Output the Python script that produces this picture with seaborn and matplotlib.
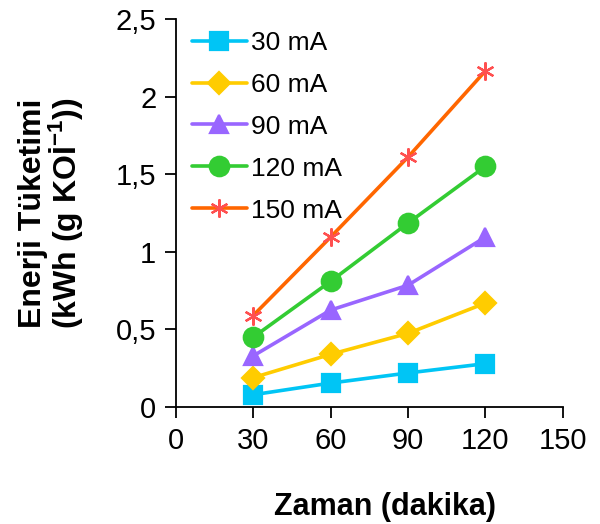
import pandas as pd
import matplotlib.pyplot as plt
import seaborn as sns
from matplotlib.ticker import FuncFormatter

# veriler
zaman = [30, 60, 90, 120]
akim = ["30 mA", "60 mA", "90 mA", "120 mA", "150 mA"]
e30 = [0.08, 0.155, 0.22, 0.28]
e60 = [0.19, 0.34, 0.475, 0.67]
e90 = [0.33, 0.625, 0.785, 1.095]
e120 = [0.45, 0.81, 1.185, 1.55]
e150 = [0.59, 1.095, 1.61, 2.165]

renkler = ["#00C5F5", "#FFCC00", "#9966FF", "#33CC33", "#FF6600"]
marker_renk = ["#00C5F5", "#FFCC00", "#9966FF", "#33CC33", "#FF5050"]
markerlar = ["s", "D", "^", "o", (6, 2, 0)]
boyut = [13, 11, 13, 14, 13]


def main():
    sns.set_style("white")
    plt.rcParams['font.family'] = ['Liberation Sans', 'DejaVu Sans']
    plt.rcParams['mathtext.fontset'] = 'custom'
    plt.rcParams['mathtext.rm'] = 'Liberation Sans'
    plt.rcParams['mathtext.bf'] = 'Liberation Sans:bold'
    plt.rcParams['text.color'] = 'black'
    plt.rcParams['axes.labelcolor'] = 'black'

    fig = plt.figure(figsize=(6, 5.24), dpi=100)
    ax = fig.add_axes([0.293, 0.223, 0.645, 0.741])

    for i, (ad, deger) in enumerate(zip(akim, [e30, e60, e90, e120, e150])):
        df = pd.DataFrame({"zaman": zaman, "enerji": deger})
        sns.lineplot(data=df, x="zaman", y="enerji", ax=ax, color=renkler[i],
                     marker=markerlar[i], markersize=boyut[i], linewidth=2.6,
                     markerfacecolor=marker_renk[i], markeredgecolor=marker_renk[i],
                     markeredgewidth=1.6, label=ad)

    ax.set_xlim(0, 150)
    ax.set_ylim(0, 2.5)
    ax.set_xticks([0, 30, 60, 90, 120, 150])
    ax.set_yticks([0, 0.5, 1, 1.5, 2, 2.5])
    ax.yaxis.set_major_formatter(FuncFormatter(lambda v, p: f"{v:g}".replace(".", ",")))
    ax.tick_params(axis="both", labelsize=21, direction="out", length=8, width=1.3,
                   colors="black", left=True, bottom=True, pad=6)
    for s in ["top", "right"]:
        ax.spines[s].set_visible(False)
    for s in ["left", "bottom"]:
        ax.spines[s].set_color("black")
        ax.spines[s].set_linewidth(1.3)

    ax.set_xlabel("Zaman (dakika)", fontsize=22, fontweight="bold", labelpad=27)
    ax.xaxis.label.set_x(0.54)
    ax.set_ylabel("Enerji Tüketimi\n(kWh (g KOİ$^{\\mathbf{-1}}$))", fontsize=23,
                  fontweight="bold", labelpad=22, linespacing=0.95)

    ax.legend(loc="upper left", bbox_to_anchor=(0.0, 1.01), frameon=False,
              fontsize=19, handlelength=2.1, labelspacing=0.68, handletextpad=0.15,
              borderaxespad=0.2)

    plt.savefig("out.png", dpi=100)


if __name__ == "__main__":
    main()
